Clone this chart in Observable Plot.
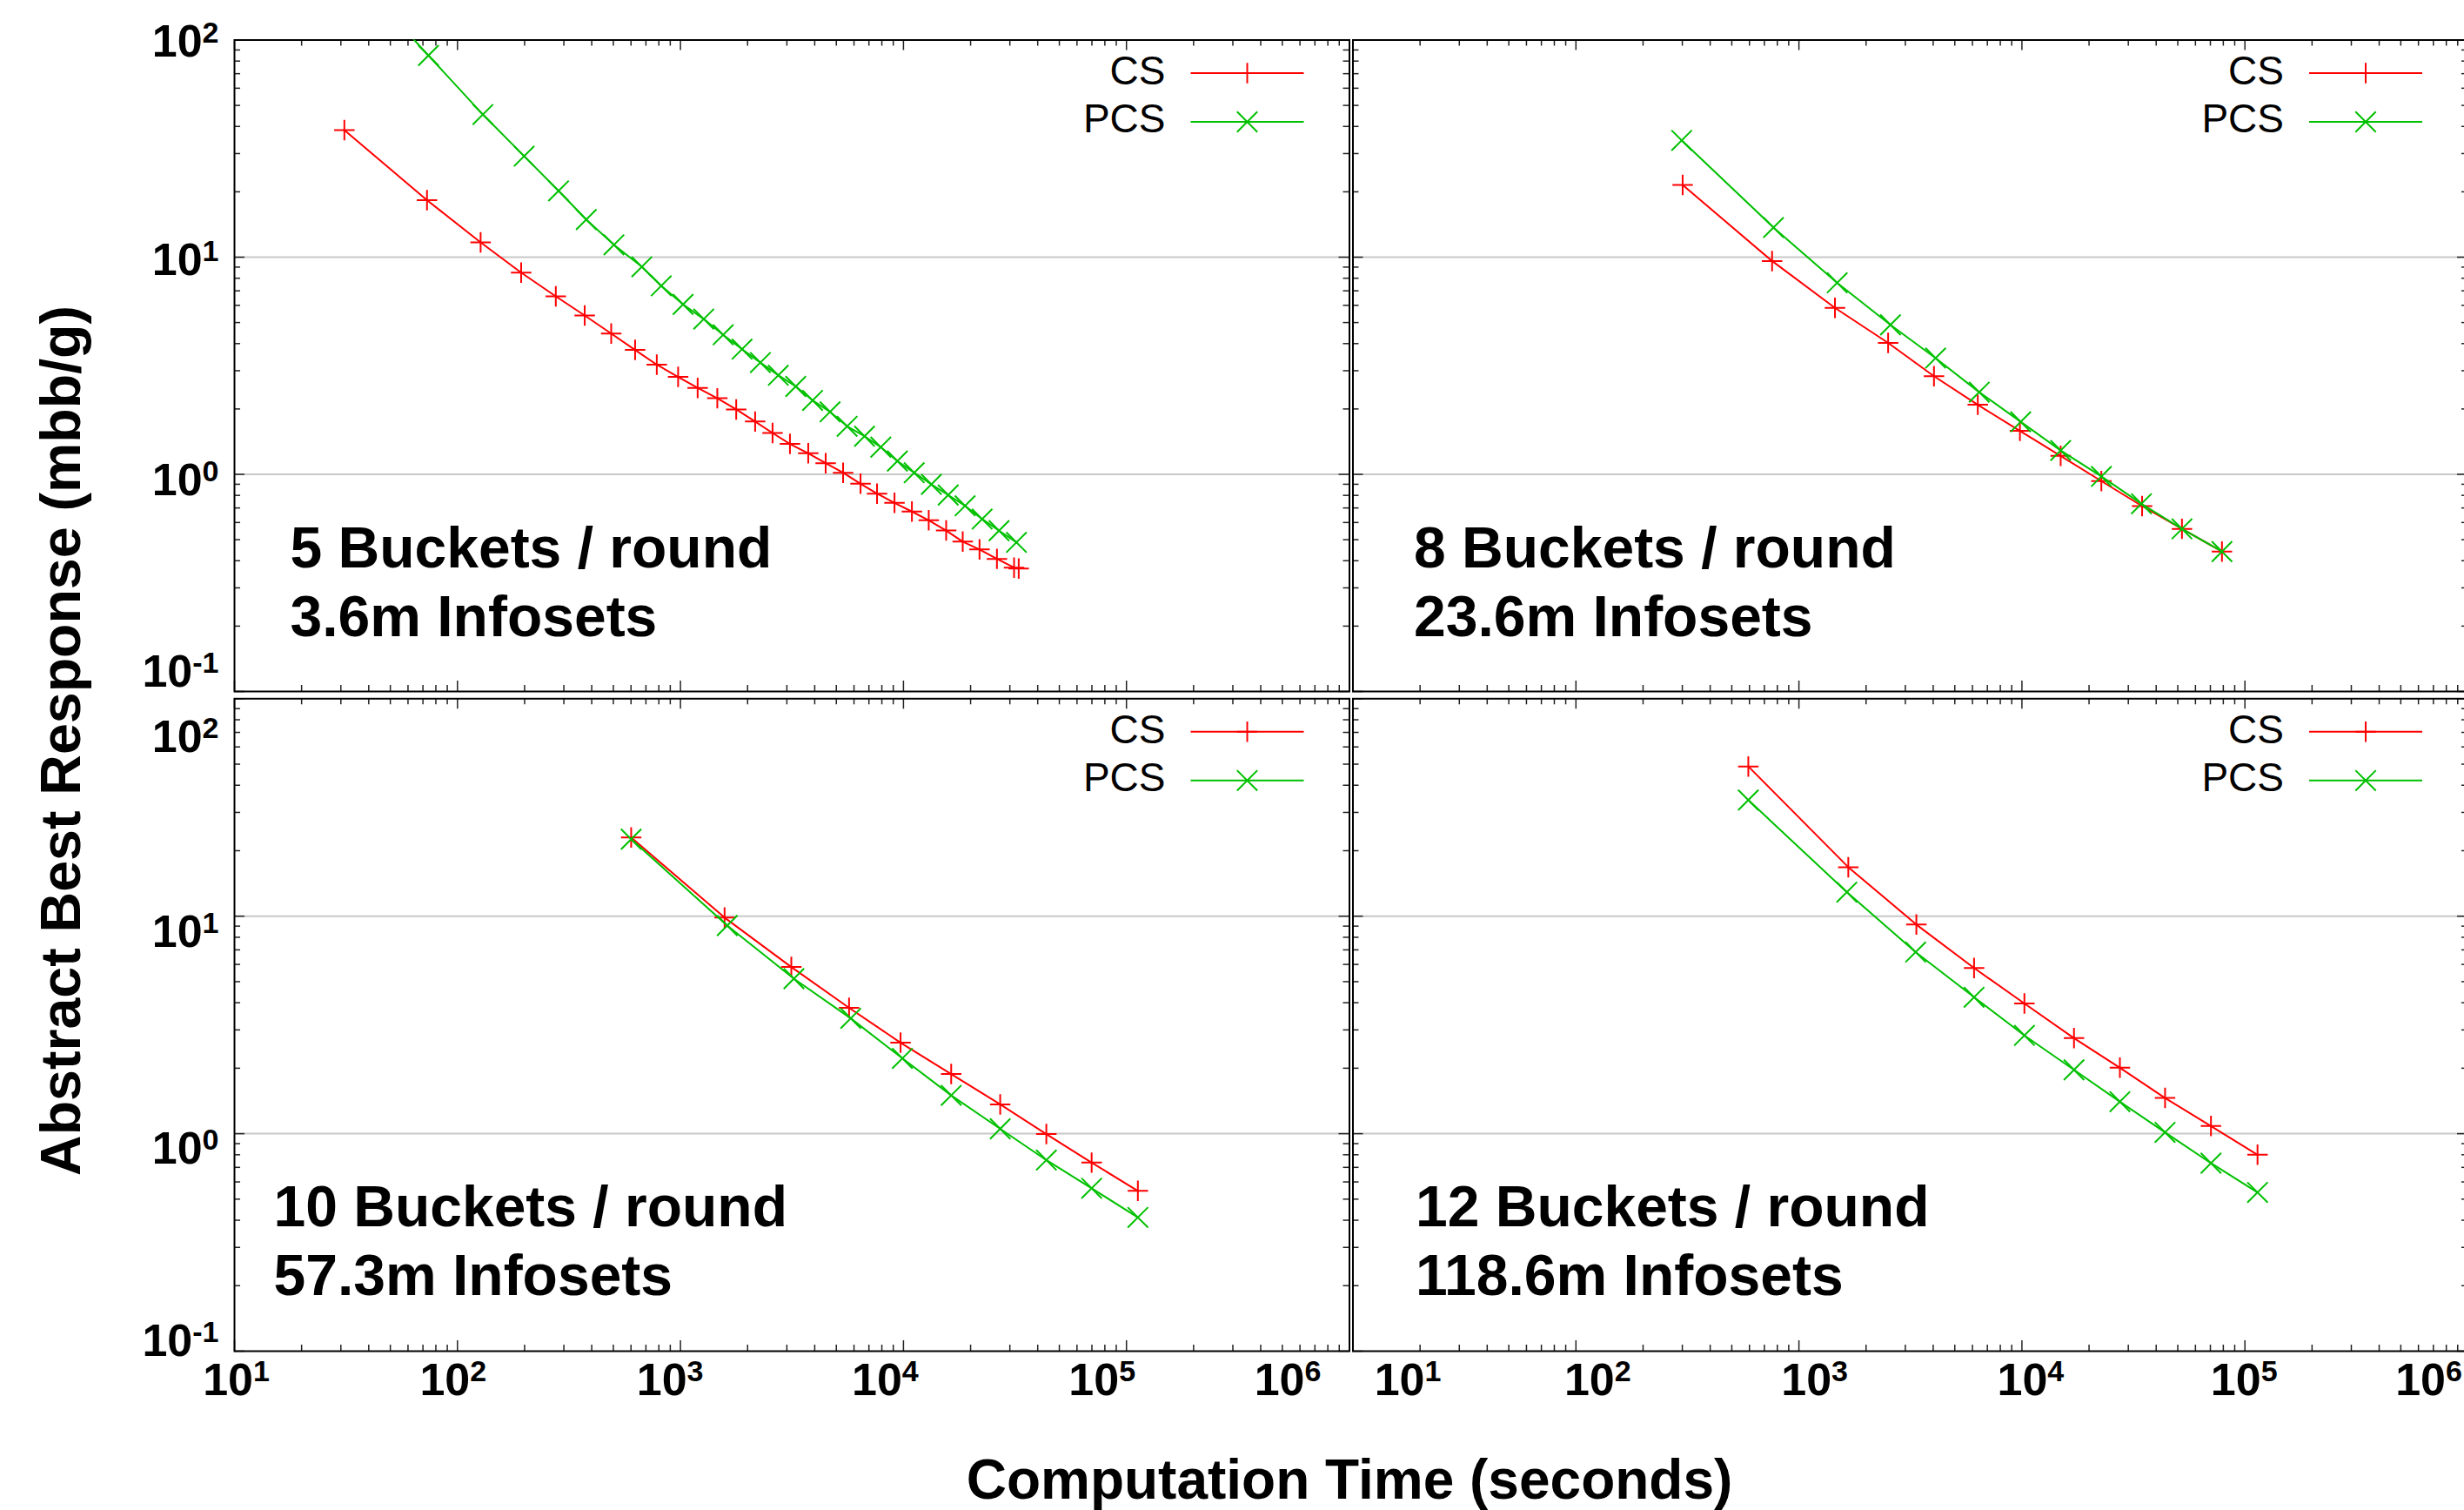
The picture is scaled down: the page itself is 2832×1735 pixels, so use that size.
<!DOCTYPE html>
<html>
<head>
<meta charset="utf-8">
<script src="https://cdn.jsdelivr.net/npm/d3@7"></script>
<script src="https://cdn.jsdelivr.net/npm/@observablehq/plot@0.6"></script>
<style>
  html, body { margin: 0; padding: 0; background: #fff; overflow: hidden; }
  #chart { position: relative; width: 2832px; height: 1735px; overflow: hidden; background: #fff; }
  #chart svg { position: absolute; left: 0; top: 0; max-width: none; background: transparent; }
</style>
</head>
<body>
<div id="chart"></div>
<script>
// ---------------- data ----------------
const seriesNames = ["CS", "PCS"];
const panelTitles = ["5 Buckets / round", "8 Buckets / round", "10 Buckets / round", "12 Buckets / round"];
const panelInfosets = ["3.6m Infosets", "23.6m Infosets", "57.3m Infosets", "118.6m Infosets"];
const xTickValues = [10, 100, 1000, 10000, 100000, 1000000];
const yTickValues = [0.1, 1, 10, 100];
const yGridValues = [1, 10];
const xAxisTitle = "Computation Time (seconds)";
const yAxisTitle = "Abstract Best Response (mbb/g)";

// 5 buckets / round
const csTime5 = [31.1, 73.0, 127, 193, 276, 372, 489, 626, 783, 976, 1194, 1463, 1778, 2162, 2588, 3097, 3741, 4478, 5362, 6420, 7612, 9116, 10910, 12980, 15540, 18440, 21930, 26250, 31330, 32870];
const csBR5 = [38.5, 18.3, 11.7, 8.49, 6.60, 5.39, 4.45, 3.74, 3.20, 2.81, 2.50, 2.24, 1.99, 1.75, 1.55, 1.38, 1.25, 1.125, 1.017, 0.905, 0.815, 0.739, 0.674, 0.614, 0.551, 0.490, 0.451, 0.408, 0.372, 0.368];
const pcsTime5 = [31.1, 74.1, 130, 199, 284, 378, 503, 671, 820, 1027, 1272, 1554, 1889, 2282, 2746, 3287, 3913, 4686, 5589, 6689, 7914, 9392, 11170, 13340, 15870, 18890, 22530, 26830, 32110];
const pcsBR5 = [224, 84.9, 45.4, 29.2, 20.2, 14.9, 11.4, 9.03, 7.38, 6.06, 5.19, 4.39, 3.77, 3.27, 2.86, 2.54, 2.19, 1.94, 1.664, 1.498, 1.334, 1.151, 1.017, 0.899, 0.803, 0.716, 0.622, 0.550, 0.486];

// 8 buckets / round
const csTime8 = [301, 758, 1451, 2512, 4033, 6339, 9795, 14920, 22710, 34590, 52200, 78900];
const csBR8 = [21.5, 9.6, 5.84, 4.03, 2.83, 2.09, 1.585, 1.216, 0.931, 0.714, 0.561, 0.441];
const pcsTime8 = [298, 769, 1484, 2573, 4102, 6436, 9874, 14920, 22710, 34350, 52200, 78900];
const pcsBR8 = [34.5, 13.7, 7.62, 4.88, 3.43, 2.39, 1.745, 1.288, 0.978, 0.732, 0.561, 0.441];

// 10 buckets / round
const csTime10 = [601, 1577, 3141, 5702, 9705, 16370, 27150, 43720, 69800, 112500];
const csBR10 = [23.0, 9.85, 5.84, 3.79, 2.62, 1.88, 1.364, 0.996, 0.736, 0.546];
const pcsTime10 = [601, 1621, 3226, 5802, 9888, 16370, 27150, 43720, 69800, 112500];
const pcsBR10 = [22.6, 9.05, 5.16, 3.39, 2.22, 1.50, 1.053, 0.756, 0.561, 0.412];

// 12 buckets / round
const csTime12 = [593, 1665, 3362, 6101, 10260, 17120, 27500, 43840, 70420, 113900];
const csBR12 = [48.8, 16.8, 9.15, 5.78, 3.97, 2.75, 2.01, 1.459, 1.084, 0.80];
const pcsTime12 = [593, 1640, 3337, 6101, 10260, 17120, 27500, 43840, 70420, 113900];
const pcsBR12 = [34.2, 12.9, 6.84, 4.24, 2.83, 1.966, 1.403, 1.014, 0.732, 0.537];

const panelSeries = [
  [[csTime5, csBR5], [pcsTime5, pcsBR5]],
  [[csTime8, csBR8], [pcsTime8, pcsBR8]],
  [[csTime10, csBR10], [pcsTime10, pcsBR10]],
  [[csTime12, csBR12], [pcsTime12, pcsBR12]]
];

// ---------------- layout / style ----------------
const W = 2832, H = 1735;
const FONT = "'Liberation Sans', Arial, Helvetica, sans-serif";
const cols = [{left: 269, right: 1550.5}, {left: 1554.5, right: 2836}];
const rows = [{top: 45.5, bottom: 794}, {top: 802.3, bottom: 1552}];
const colors = ["#ff0000", "#00c000"];
const symbols = ["plus", "times"];
const dotR = [7.6, 10.7];
const annotDx = [64, 70, 45, 72];
const TICK_FONT = 52, EXP_FONT = 34, EXP_SHIFT = -16;
// label nudges (gnuplot's label placement in the original)
const yLabelNudge = [[-22, 7, 4, 2], [-11, 18, 19, 45]];
const xLabelNudge = [[2, -5, -12, -21, -28, -71], [63, 25, 18, 10, -1, -45]];

const xMinor = [], yMinor = [];
for (let d = 10; d < 1e6; d *= 10) for (let m = 2; m <= 9; m++) xMinor.push(d * m);
for (let d = 0.1; d < 99; d *= 10) for (let m = 2; m <= 9; m++) yMinor.push(+(d * m).toPrecision(3));

const expLabel = v => `10^${Math.round(Math.log10(v))}`;

function legendMark() {
  return (index, scales, values, dims) => {
    const R = dims.width - dims.marginRight, T = dims.marginTop;
    const g = d3.create("svg:g");
    seriesNames.forEach((name, k) => {
      const ly = T + 38.5 + 56 * k;
      g.append("text")
        .attr("x", R - 211).attr("y", T + 51.5 + 55 * k)
        .attr("text-anchor", "end").attr("font-size", 46).attr("font-family", FONT)
        .attr("fill", "black").text(name);
      g.append("line")
        .attr("x1", R - 182).attr("x2", R - 52).attr("y1", ly).attr("y2", ly)
        .attr("stroke", colors[k]).attr("stroke-width", 2);
      const sym = k === 0 ? d3.symbolPlus : d3.symbolTimes;
      g.append("path")
        .attr("transform", `translate(${R - 117},${ly})`)
        .attr("d", d3.symbol(sym, Math.PI * dotR[k] * dotR[k])())
        .attr("fill", "none").attr("stroke", colors[k]).attr("stroke-width", 2);
    });
    return g.node();
  };
}

function titlesMark() {
  return () => {
    const g = d3.create("svg:g").attr("font-family", FONT).attr("font-weight", "bold").attr("fill", "black");
    g.append("text").attr("transform", "translate(92,851) rotate(-90)").attr("text-anchor", "middle").attr("font-size", 64.5).text(yAxisTitle);
    g.append("text").attr("x", 1551).attr("y", 1722).attr("text-anchor", "middle").attr("font-size", 64).text(xAxisTitle);
    return g.node();
  };
}

function panelPlot(i) {
  const col = i % 2, row = Math.floor(i / 2);
  const {left, right} = cols[col];
  const {top, bottom} = rows[row];
  const fw = right - left, fh = bottom - top;
  const major = 12, minor = 7;
  const tickStyle = {stroke: "#222", strokeWidth: 1.5};

  const marks = [
    Plot.ruleY(yGridValues, {stroke: "#c8c8c8", strokeWidth: 2}),
    // x ticks (top & bottom, inward)
    Plot.tickX(xTickValues, {x: d => d, insetBottom: fh - major, ...tickStyle}),
    Plot.tickX(xTickValues, {x: d => d, insetTop: fh - major, ...tickStyle}),
    Plot.tickX(xMinor, {x: d => d, insetBottom: fh - minor, ...tickStyle}),
    Plot.tickX(xMinor, {x: d => d, insetTop: fh - minor, ...tickStyle}),
    // y ticks (left & right, inward)
    Plot.tickY(yTickValues, {y: d => d, insetRight: fw - major, ...tickStyle}),
    Plot.tickY(yTickValues, {y: d => d, insetLeft: fw - major, ...tickStyle}),
    Plot.tickY(yMinor, {y: d => d, insetRight: fw - minor, ...tickStyle}),
    Plot.tickY(yMinor, {y: d => d, insetLeft: fw - minor, ...tickStyle}),
    Plot.frame({stroke: "black", strokeWidth: 2})
  ];

  panelSeries[i].forEach(([ts, vs], k) => {
    const rowsData = ts.map((t, j) => ({t, v: vs[j]}));
    marks.push(Plot.line(rowsData, {x: "t", y: "v", stroke: colors[k], strokeWidth: 2, clip: true}));
    marks.push(Plot.dot(rowsData, {x: "t", y: "v", symbol: symbols[k], r: dotR[k], stroke: colors[k], fill: "none", strokeWidth: 2, clip: true}));
  });

  // panel annotation
  marks.push(Plot.text([`${panelTitles[i]}\n${panelInfosets[i]}`], {
    frameAnchor: "top-left", dx: annotDx[i], dy: 685, textAnchor: "start", lineAnchor: "bottom",
    lineHeight: 79 / 66, fontSize: 66, fontWeight: "bold", fill: "black", text: d => d
  }));

  // y tick labels on left column
  if (col === 0) {
    yTickValues.forEach((v, j) => {
      marks.push(Plot.text([v], {
        y: d => d, frameAnchor: "left", dx: -18, dy: yLabelNudge[row][j], textAnchor: "end",
        fontSize: TICK_FONT, fontWeight: "bold", fill: "black", text: expLabel
      }));
    });
  }
  // x tick labels on bottom row
  if (row === 1) {
    xTickValues.forEach((v, j) => {
      marks.push(Plot.text([v], {
        x: d => d, frameAnchor: "bottom", dy: 50, dx: xLabelNudge[col][j], textAnchor: "middle",
        fontSize: TICK_FONT, fontWeight: "bold", fill: "black", text: expLabel
      }));
    });
  }

  marks.push(legendMark());
  if (i === 0) marks.push(titlesMark());

  const svg = Plot.plot({
    width: W, height: H,
    marginLeft: left, marginRight: W - right, marginTop: top, marginBottom: H - bottom,
    x: {type: "log", domain: [10, 1e6], axis: null},
    y: {type: "log", domain: [0.1, 100], axis: null},
    style: {fontFamily: FONT, background: "transparent", overflow: "visible"},
    marks
  });

  // superscript exponents
  d3.select(svg).selectAll("text").each(function () {
    const m = /^10\^(-?\d+)$/.exec(this.textContent);
    if (m) {
      this.textContent = "10";
      d3.select(this).append("tspan").attr("dy", EXP_SHIFT).attr("font-size", EXP_FONT).text(m[1]);
    }
  });
  return svg;
}

const chart = document.getElementById("chart");
for (let i = 0; i < 4; i++) chart.appendChild(panelPlot(i));
</script>
</body>
</html>
